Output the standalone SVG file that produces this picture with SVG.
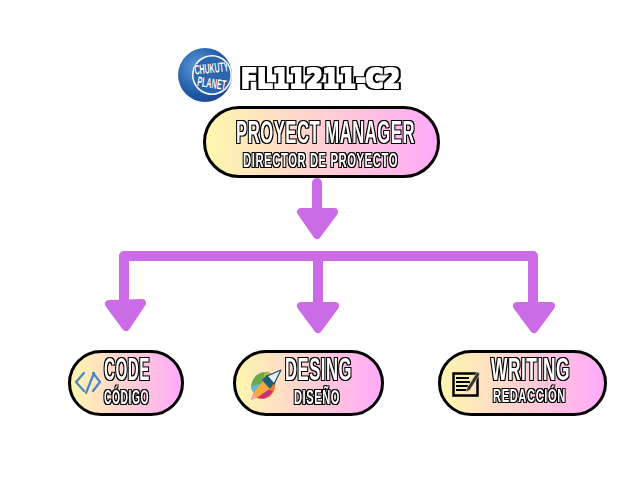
<svg xmlns="http://www.w3.org/2000/svg" width="640" height="480" viewBox="0 0 640 480">
<style>
.box{fill:url(#g);stroke:#000;stroke-width:3}
.t{font-family:"Liberation Sans",Arial,sans-serif;font-weight:700;fill:#fff;filter:url(#o);letter-spacing:1px}
.big{font-size:32px}
.sm{font-size:20px}
.title{font-family:"DejaVu Sans",sans-serif;font-weight:700;font-size:27px;fill:#fff;filter:url(#o2)}
.line{fill:none;stroke:#cb6ce6;stroke-width:10;stroke-linecap:round;stroke-linejoin:round}
.head{fill:#cb6ce6;stroke:#cb6ce6;stroke-width:8;stroke-linejoin:round}
.logo{font-family:"Liberation Sans",sans-serif;font-weight:700;font-size:14px;fill:#fff;stroke:#123a80;stroke-width:0.800px;paint-order:stroke;text-anchor:middle}
</style>
<defs>
<linearGradient id="g" x1="0" y1="0" x2="1" y2="0"><stop offset="0" stop-color="#fff7ad"/><stop offset="1" stop-color="#ffa9f9"/></linearGradient>
<radialGradient id="b" cx="0.35" cy="0.35" r="0.8"><stop offset="0" stop-color="#5c9ad8"/><stop offset="0.6" stop-color="#1f5ba8"/><stop offset="1" stop-color="#1d3f8c"/></radialGradient>
<filter id="o" x="-10%" y="-20%" width="120%" height="140%" color-interpolation-filters="sRGB">
<feMorphology in="SourceGraphic" operator="dilate" radius="0.4 0" result="w"/>
<feMorphology in="SourceAlpha" operator="dilate" radius="1.3" result="k"/>
<feMerge><feMergeNode in="k"/><feMergeNode in="w"/></feMerge>
</filter>
<filter id="o2" x="-10%" y="-20%" width="120%" height="140%" color-interpolation-filters="sRGB">
<feMorphology in="SourceGraphic" operator="dilate" radius="1 0.5" result="w"/>
<feMorphology in="SourceAlpha" operator="dilate" radius="2.6 2.2" result="k"/>
<feMerge><feMergeNode in="k"/><feMergeNode in="w"/></feMerge>
</filter>
</defs>
<g id="connectors">
<path class="line" d="M317 183V212"/>
<polygon class="head" points="301,212 334,212 317,235"/>
<path class="line" d="M124 303L124 256H533V305M318 256V305"/>
<polygon class="head" points="109,304 142,303 126,327"/>
<polygon class="head" points="301,306 335,306 318,329"/>
<polygon class="head" points="517,306 551,306 534,329"/>
</g>
<g id="logo">
<circle cx="205" cy="75" r="27" fill="url(#b)"/>
<ellipse cx="212" cy="75" rx="20" ry="20" fill="#fff"/>
<ellipse cx="212" cy="75" rx="18.500" ry="18.500" fill="#2a66b0"/>
<text class="logo" transform="rotate(-6 212 73)" x="212" y="73" textLength="34" lengthAdjust="spacingAndGlyphs">CHUKUTY</text>
<text class="logo" transform="rotate(8 211 88)" x="211" y="88" textLength="29" lengthAdjust="spacingAndGlyphs">PLANET</text>
</g>
<g id="title">
<text class="title" x="241" y="88" textLength="159" lengthAdjust="spacingAndGlyphs">FL11211-C2</text>
</g>
<g id="node-manager">
<rect class="box" x="204.500" y="107.500" width="234" height="69" rx="34.500"/>
<text class="t big" x="236" y="143" textLength="179" lengthAdjust="spacingAndGlyphs">PROYECT MANAGER</text>
<text class="t sm" x="243" y="167" textLength="155" lengthAdjust="spacingAndGlyphs">DIRECTOR DE PROYECTO</text>
</g>
<g id="node-code">
<rect class="box" x="69.500" y="351.500" width="113" height="63" rx="31.500"/>
<path d="M84 373L76 382L84 391M94 373L86 393M93 373L100 382L93 391" fill="none" stroke="#4a86c5" stroke-width="2.200" stroke-linejoin="round" stroke-linecap="round"/>
<text class="t big" x="104" y="380" textLength="46" lengthAdjust="spacingAndGlyphs">CODE</text>
<text class="t sm" x="104" y="404" textLength="45" lengthAdjust="spacingAndGlyphs">CÓDIGO</text>
</g>
<g id="node-design">
<rect class="box" x="234.500" y="351.500" width="148" height="63" rx="31.500"/>
<path d="M264 372C256 373 251 380 251 388L262 388L268 374Z" fill="#6aa84f"/>
<path d="M264 372C268 371 272 373 274 376L264 384Z" fill="#a8b84f"/>
<path d="M251 386L261 384L256 395C253 393 251 390 251 386Z" fill="#5cb8e0"/>
<path d="M270 385L275 379C277 389 272 399 262 399C259 399 257 398 255 397Z" fill="#ee7a2c"/>
<path d="M256 397C262 400 269 398 273 391L266 389Z" fill="#c8307a"/>
<path d="M251 400L254 392L263 381L271 388L258 397Z" fill="#f7a93a"/>
<path d="M251 400L253 393L257 397Z" fill="#f7a1b5"/>
<path d="M262 380L267 375L274 383L270 389Z" fill="#1f5f7a"/>
<path d="M267 376L281 370L274 384Z" fill="#dff1f5" stroke="#1f4f66" stroke-width="1.200" stroke-linejoin="round"/>
<text class="t big" x="285" y="380" textLength="67" lengthAdjust="spacingAndGlyphs">DESING</text>
<text class="t sm" x="294" y="404" textLength="46" lengthAdjust="spacingAndGlyphs">DISEÑO</text>
</g>
<g id="node-writing">
<rect class="box" x="439.500" y="351.500" width="166" height="63" rx="31.500"/>
<rect x="453.500" y="373.500" width="24" height="22" fill="none" stroke="#000" stroke-width="2.500"/>
<path d="M456 378H469M456 382H470M456 386H468M456 390H468" stroke="#000" stroke-width="2"/>
<path d="M467 388L477 372L480 374L470 390L466 392Z" fill="#333" stroke="#fff7c0" stroke-width="0.600"/>
<text class="t big" x="491" y="380" textLength="79" lengthAdjust="spacingAndGlyphs">WRITING</text>
<text class="t sm" x="493" y="402" style="font-size:19px" textLength="73" lengthAdjust="spacingAndGlyphs">REDACCIÓN</text>
</g>
</svg>
